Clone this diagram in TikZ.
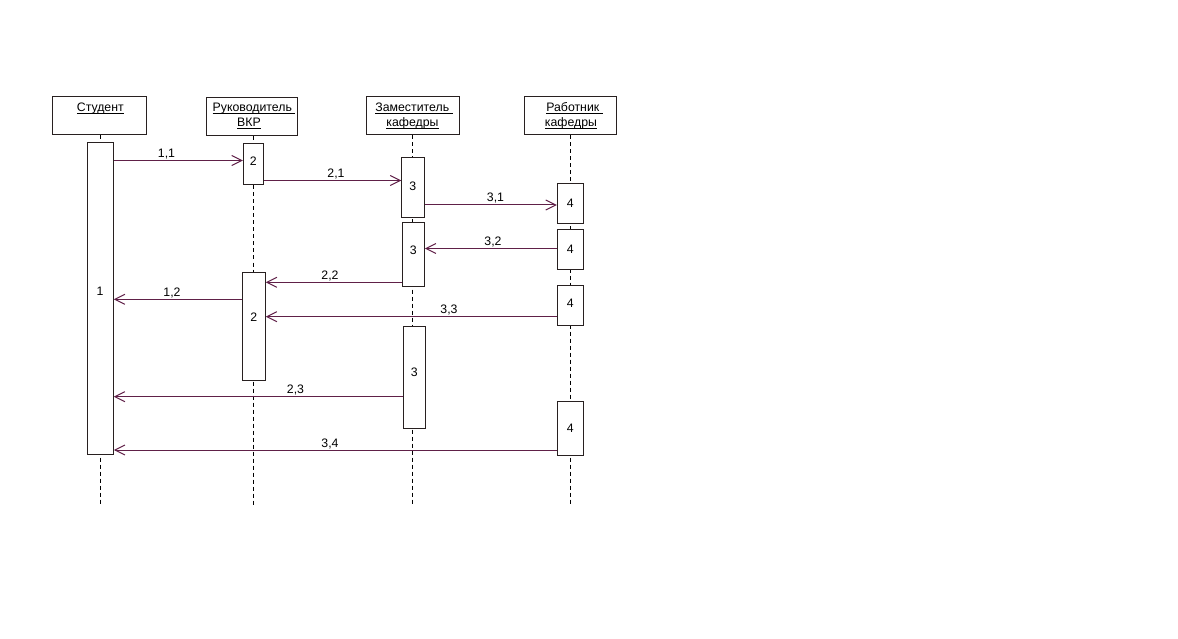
\documentclass[tikz,border=0pt]{standalone}
\usepackage{fontspec}
\setmainfont{Liberation Sans}
\usetikzlibrary{arrows.meta}
\definecolor{msgc}{RGB}{96,32,72}
\definecolor{boxc}{RGB}{40,32,32}
\newcommand\hul[1]{\setbox0\hbox{#1}\rlap{\rule[-1.9pt]{\wd0}{0.9pt}}\box0}
\tikzset{
  hdr/.style={draw=boxc, line width=1pt, minimum height=38pt, inner sep=0pt},
  actbar/.style={draw=boxc, fill=white, line width=1pt, inner sep=0pt},
  lifeline/.style={draw=black, line width=1pt, dash pattern=on 4pt off 3pt},
  msg/.style={draw=msgc, line width=1pt, -{Straight Barb[length=10pt,width=10pt]}},
  txt/.style={font=\fontsize{12.3}{14}\selectfont, inner sep=0pt, text=black},
}
\begin{document}
\begin{tikzpicture}[x=1pt,y=-1pt]
\useasboundingbox (0,0) rectangle (1178,639);
% header boxes
\node[hdr, minimum width=94.4pt] (stud) at (99.5,116) {};
\node[hdr, minimum width=91.7pt] (ruk)  at (251.9,117) {};
\node[hdr, minimum width=93.3pt] (zam)  at (412.7,116) {};
\node[hdr, minimum width=92.4pt] (rab)  at (570.5,116) {};
\node[txt, anchor=base] (studt) at (100.3,112) {\hul{Студент}};
\node[txt, anchor=base] (rukt1) at (254,112) {\hul{Руководитель\ }};
\node[txt, anchor=base] (rukt2) at (249,127) {\hul{ВКР}};
\node[txt, anchor=base] (zamt1) at (414,112) {\hul{Заместитель\ }};
\node[txt, anchor=base] (zamt2) at (412.5,127) {\hul{кафедры}};
\node[txt, anchor=base] (rabt1) at (574.5,112) {\hul{Работник\ }};
\node[txt, anchor=base] (rabt2) at (571,127) {\hul{кафедры}};
% lifelines
\coordinate (sEnd) at (100.3,505);
\coordinate (rEnd) at (253.3,505);
\coordinate (zEnd) at (412.8,505);
\coordinate (qEnd) at (570.3,505);
\draw[lifeline] (stud.south -| sEnd) -- (sEnd);
\draw[lifeline] (ruk.south -| rEnd) -- (rEnd);
\draw[lifeline] (zam.south -| zEnd) -- (zEnd);
\draw[lifeline] (rab.south -| qEnd) -- (qEnd);
% activation bars
\node[actbar, minimum width=26pt, minimum height=312pt] (s1) at (100.3,298.3) {};
\node[actbar, minimum width=20pt, minimum height=40.5pt] (r1) at (253.3,163.8) {};
\node[actbar, minimum width=23pt, minimum height=108pt] (r2) at (253.8,326.3) {};
\node[actbar, minimum width=22.3pt, minimum height=60pt] (z1) at (412.9,187.7) {};
\node[actbar, minimum width=22.3pt, minimum height=64pt] (z2) at (413.2,254.4) {};
\node[actbar, minimum width=22pt, minimum height=102pt] (z3) at (414.3,377.2) {};
\node[actbar, minimum width=26pt, minimum height=40pt] (q1) at (570.3,203.3) {};
\node[actbar, minimum width=26pt, minimum height=40pt] (q2) at (570.3,249.3) {};
\node[actbar, minimum width=26pt, minimum height=40pt] (q3) at (570.3,305) {};
\node[actbar, minimum width=26pt, minimum height=54pt] (q4) at (570.3,428.2) {};
% bar labels
\node[txt] (s1t) at (100,291) {1};
\node[txt] (r1t) at (253.3,161) {2};
\node[txt] (r2t) at (253.8,317.3) {2};
\node[txt] (z1t) at (412.9,186) {3};
\node[txt] (z2t) at (413.2,250) {3};
\node[txt] (z3t) at (414.3,372.3) {3};
\node[txt] (q1t) at (570.3,203.3) {4};
\node[txt] (q2t) at (570.3,249.3) {4};
\node[txt] (q3t) at (570.3,303.3) {4};
\node[txt] (q4t) at (570.3,428.2) {4};
% messages
\draw[msg] (s1.east |- 0,160.5) -- (r1.west |- 0,160.5);
\node[txt, anchor=base] (m11) at (166.5,157.5) {1,1};
\draw[msg] (r1.east |- 0,180.5) -- (z1.west |- 0,180.5);
\node[txt, anchor=base] (m21) at (336,177.5) {2,1};
\draw[msg] (z1.east |- 0,205) -- (q1.west |- 0,205);
\node[txt, anchor=base] (m31) at (495.5,202) {3,1};
\draw[msg] (q2.west |- 0,248.5) -- (z2.east |- 0,248.5);
\node[txt, anchor=base] (m32) at (493,245.5) {3,2};
\draw[msg] (z2.west |- 0,282.3) -- (r2.east |- 0,282.3);
\node[txt, anchor=base] (m22) at (330,279.3) {2,2};
\draw[msg] (r2.west |- 0,299.3) -- (s1.east |- 0,299.3);
\node[txt, anchor=base] (m12) at (172,296.3) {1,2};
\draw[msg] (q3.west |- 0,316.7) -- (r2.east |- 0,316.7);
\node[txt, anchor=base] (m33) at (449,313.7) {3,3};
\draw[msg] (z3.west |- 0,396.7) -- (s1.east |- 0,396.7);
\node[txt, anchor=base] (m23) at (295.5,393.7) {2,3};
\draw[msg] (q4.west |- 0,450) -- (s1.east |- 0,450);
\node[txt, anchor=base] (m34) at (330,447) {3,4};
\end{tikzpicture}
\end{document}
